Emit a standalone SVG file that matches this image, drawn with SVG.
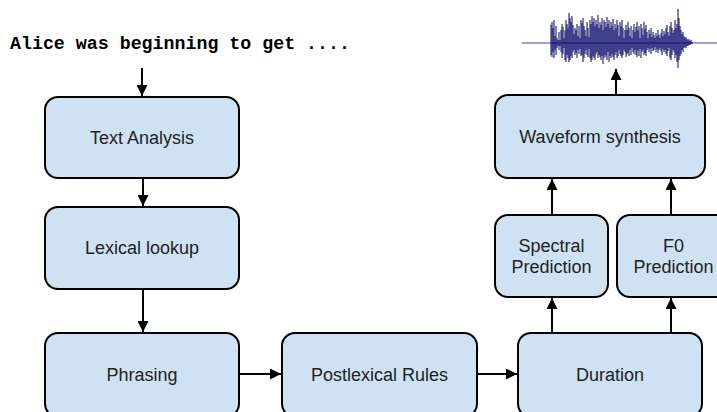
<svg xmlns="http://www.w3.org/2000/svg" width="717" height="412" viewBox="0 0 717 412">
<style>
.box{fill:#cfe2f3;stroke:#000;stroke-width:2}
.lbl{font-family:"Liberation Sans",Arial,sans-serif;font-size:18px;fill:#222;text-anchor:middle}
.conn{stroke:#000;stroke-width:2;fill:none;marker-end:url(#ah)}
</style>
<defs>
<marker id="ah" viewBox="0 0 10 10" refX="10" refY="5" markerWidth="5.5" markerHeight="5.5" orient="auto" markerUnits="strokeWidth">
<path d="M0,0 L10,5 L0,10 z" fill="#000"/>
</marker>
</defs>
<rect width="717" height="412" fill="#fff"/>
<text x="10" y="49" font-family="'Liberation Mono','Courier New',monospace" font-weight="bold" font-size="18" fill="#000" textLength="340" lengthAdjust="spacingAndGlyphs">Alice was beginning to get ....</text>
<g id="waveform">
<line x1="522" y1="43" x2="717" y2="43" stroke="#8585b5" stroke-width="1.5"/>
<path stroke="#000066" stroke-width="1" fill="none" d="M551 25V55M552 22V57M553 28V52M554 20V58M555 36V50M556 26V55M557 38V48M558 40V46M559 32V50M560 40V46M561 30V52M562 24V58M563 27V54M564 38V48M565 30V60M566 20V62M567 24V55M568 28V58M569 13V62M570 18V60M571 22V56M572 16V58M573 25V52M574 34V50M575 28V55M576 30V53M577 24V58M578 36V50M579 26V54M580 38V49M581 20V56M582 23V55M583 18V62M584 26V58M585 30V54M586 36V50M587 22V55M588 28V57M589 37V49M590 20V58M591 24V62M592 16V60M593 22V56M594 18V58M595 26V60M596 20V54M597 24V52M598 15V58M599 28V55M600 22V57M601 25V60M602 18V56M603 30V64M604 20V58M605 22V55M606 27V57M607 17V60M608 24V52M609 20V62M610 28V56M611 22V58M612 26V54M613 19V57M614 30V60M615 24V55M616 28V52M617 20V58M618 25V56M619 36V50M620 22V54M621 26V56M622 20V58M623 28V55M624 38V50M625 30V52M626 25V57M627 30V54M628 22V53M629 28V56M630 36V50M631 26V55M632 38V48M633 30V52M634 24V54M635 32V50M636 27V55M637 22V57M638 30V51M639 26V56M640 38V49M641 24V58M642 28V52M643 35V50M644 22V55M645 29V53M646 25V56M647 32V50M648 38V48M649 30V52M650 34V49M651 28V54M652 37V48M653 32V51M654 35V50M655 38V47M656 33V52M657 36V49M658 30V53M659 35V50M660 38V48M661 33V51M662 29V55M663 36V49M664 31V52M665 34V50M666 28V54M667 25V56M668 32V51M669 36V48M670 26V58M671 22V60M672 28V55M673 33V50M674 30V52M675 20V58M676 28V55M677 24V62M678 9V68M679 18V60M680 26V56M681 30V54M682 34V50M683 32V52M684 36V48M685 38V47M686 37V48M687 39V46M688 40V46M689 39V45M690 41V45M691 40V44M692 42V44"/>
</g>
<g id="connectors">
<line class="conn" x1="142" y1="68" x2="142" y2="96"/>
<line class="conn" x1="143" y1="178" x2="143" y2="206"/>
<line class="conn" x1="143" y1="289" x2="143" y2="332"/>
<line class="conn" x1="239" y1="374" x2="281" y2="374"/>
<line class="conn" x1="477" y1="374" x2="517" y2="374"/>
<line class="conn" x1="552" y1="333" x2="552" y2="298"/>
<line class="conn" x1="671" y1="333" x2="671" y2="298"/>
<line class="conn" x1="552" y1="215" x2="552" y2="179"/>
<line class="conn" x1="671" y1="215" x2="671" y2="179"/>
<line class="conn" x1="616" y1="95" x2="616" y2="69"/>
</g>
<g id="text-analysis"><rect class="box" x="45" y="97" width="194" height="81" rx="13"/><text class="lbl" x="142" y="144">Text Analysis</text></g>
<g id="lexical-lookup"><rect class="box" x="45" y="207" width="194" height="82" rx="13"/><text class="lbl" x="142" y="254">Lexical lookup</text></g>
<g id="phrasing"><rect class="box" x="45" y="333" width="194" height="84" rx="13"/><text class="lbl" x="142" y="381">Phrasing</text></g>
<g id="postlexical-rules"><rect class="box" x="282" y="333" width="195" height="84" rx="13"/><text class="lbl" x="379.5" y="381">Postlexical Rules</text></g>
<g id="duration"><rect class="box" x="518" y="333" width="184" height="84" rx="13"/><text class="lbl" x="610" y="381">Duration</text></g>
<g id="spectral-prediction"><rect class="box" x="495" y="215" width="113" height="82" rx="13"/><text class="lbl" x="551.5" y="252">Spectral</text><text class="lbl" x="551.5" y="273">Prediction</text></g>
<g id="f0-prediction"><rect class="box" x="617" y="215" width="113" height="82" rx="13"/><text class="lbl" x="673.5" y="252">F0</text><text class="lbl" x="673.5" y="273">Prediction</text></g>
<g id="waveform-synthesis"><rect class="box" x="495" y="95" width="210" height="83" rx="13"/><text class="lbl" x="600" y="143">Waveform synthesis</text></g>
</svg>
